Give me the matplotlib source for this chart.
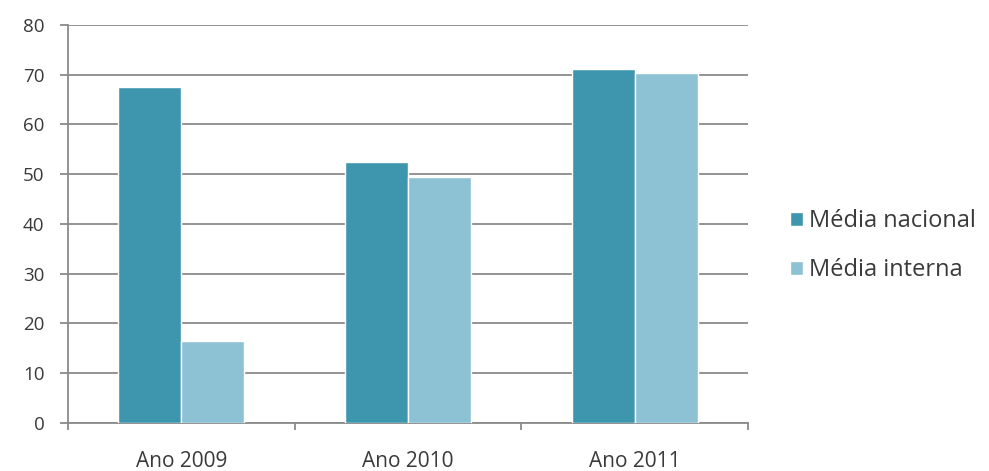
import numpy as np
import matplotlib.pyplot as plt

categories = ["Ano 2009", "Ano 2010", "Ano 2011"]
media_nacional = [67.5, 52.5, 71.2]
media_interna = [16.5, 49.5, 70.4]
series_names = ["Média nacional", "Média interna"]

plt.rcParams['font.family'] = ['Open Sans', 'DejaVu Sans']

fig = plt.figure(figsize=(9.89, 4.71), dpi=100)
ax = fig.add_axes([0.0688, 0.102, 0.6875, 0.845])

x = np.arange(len(categories))
w = 0.278
ax.bar(x - w / 2, media_nacional, w, color='#3E96AE', edgecolor='white', linewidth=1,
       label=series_names[0], zorder=3)
ax.bar(x + w / 2, media_interna, w, color='#8DC2D4', edgecolor='white', linewidth=1,
       label=series_names[1], zorder=3)

ax.set_xlim(-0.5, 2.5)
ax.set_ylim(0, 80)
ax.set_yticks(range(0, 81, 10))
ax.yaxis.grid(True, color='#8a8a8a', linewidth=1.3, zorder=0)
ax.set_xticks(x)
ax.set_xticklabels(categories, fontsize=15, color='#3a3a3a')
ax.set_xticks([-0.5, 0.5, 1.5, 2.5], minor=True)
ax.tick_params(axis='x', which='major', length=0, pad=20)
ax.tick_params(axis='x', which='minor', length=5, color='#8a8a8a', width=1.3)
ax.tick_params(axis='y', length=6, color='#8a8a8a', width=1.3, labelsize=13.5,
               labelcolor='#3a3a3a', pad=11)
for s in ['top', 'right']:
    ax.spines[s].set_visible(False)
for s in ['left', 'bottom']:
    ax.spines[s].set_color('#8a8a8a')
    ax.spines[s].set_linewidth(1.3)

ax.legend(loc='center left', bbox_to_anchor=(1.03, 0.445), frameon=False, fontsize=17,
          handlelength=0.55, handleheight=0.55, handletextpad=0.25, labelspacing=1.05,
          labelcolor='#3a3a3a')

plt.savefig("out.png", dpi=100)
